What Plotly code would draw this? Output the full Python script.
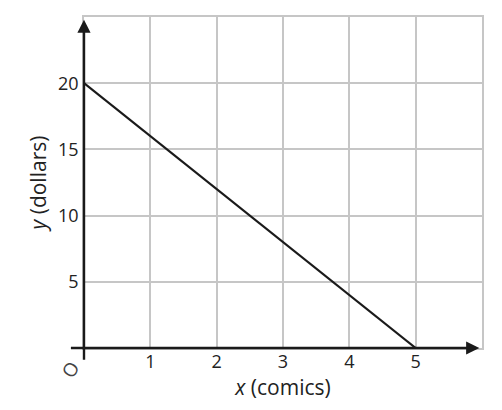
import plotly.graph_objects as go

# data
x_vals = [0, 5]
y_vals = [20, 0]
x_ticks = [1, 2, 3, 4, 5]
y_ticks = [5, 10, 15, 20]
x_range = [0, 6]
y_range = [0, 25]

FONT = "Open Sans"
grid_col = "#c6c6c6"

fig = go.Figure()
fig.add_trace(go.Scatter(x=x_vals, y=y_vals, mode="lines",
                         line=dict(color="#1a1a1a", width=2.2),
                         showlegend=False, hoverinfo="skip", cliponaxis=False))

# axes with arrows (annotations so they may extend beyond the grid)
fig.add_annotation(x=5.96, y=0, ax=-0.22, ay=0, xref="x", yref="y", axref="x", ayref="y",
                   showarrow=True, arrowhead=2, arrowsize=1.1, arrowwidth=2.4,
                   arrowcolor="#1a1a1a", text="", standoff=0, startstandoff=0)
fig.add_annotation(x=0, y=24.8, ax=0, ay=-1.0, xref="x", yref="y", axref="x", ayref="y",
                   showarrow=True, arrowhead=2, arrowsize=1.1, arrowwidth=2.4,
                   arrowcolor="#1a1a1a", text="", standoff=0, startstandoff=0)
fig.add_annotation(x=-0.21 / 6, y=-1.65 / 25, xref="paper", yref="paper", text="O", showarrow=False,
                   xanchor="center", yanchor="middle",
                   font=dict(family=FONT, size=19, color="#444"), textangle=-60)

fig.update_xaxes(range=x_range, tickvals=x_ticks, showgrid=True, gridcolor=grid_col, gridwidth=1.5,
                 showline=True, mirror=True, linecolor=grid_col, linewidth=1.5,
                 zeroline=False, ticks="", ticklen=0, ticklabelstandoff=-3,
                 tickfont=dict(family=FONT, size=18, color="#222"),
                 title=dict(text="<i>x</i> (comics)", standoff=4,
                            font=dict(family=FONT, size=21, color="#222")))
fig.update_yaxes(range=y_range, tickvals=y_ticks, showgrid=True, gridcolor=grid_col, gridwidth=1.5,
                 showline=True, mirror=True, linecolor=grid_col, linewidth=1.5,
                 zeroline=False, ticks="", ticklen=0,
                 tickfont=dict(family=FONT, size=18, color="#222"),
                 title=dict(text="<i>y</i> (dollars)", standoff=6,
                            font=dict(family=FONT, size=21, color="#222")))

fig.update_layout(width=486, height=394, margin=dict(l=76, r=12, t=9, b=54, autoexpand=False),
                  plot_bgcolor="white", paper_bgcolor="white")

fig.write_html("out.html")
